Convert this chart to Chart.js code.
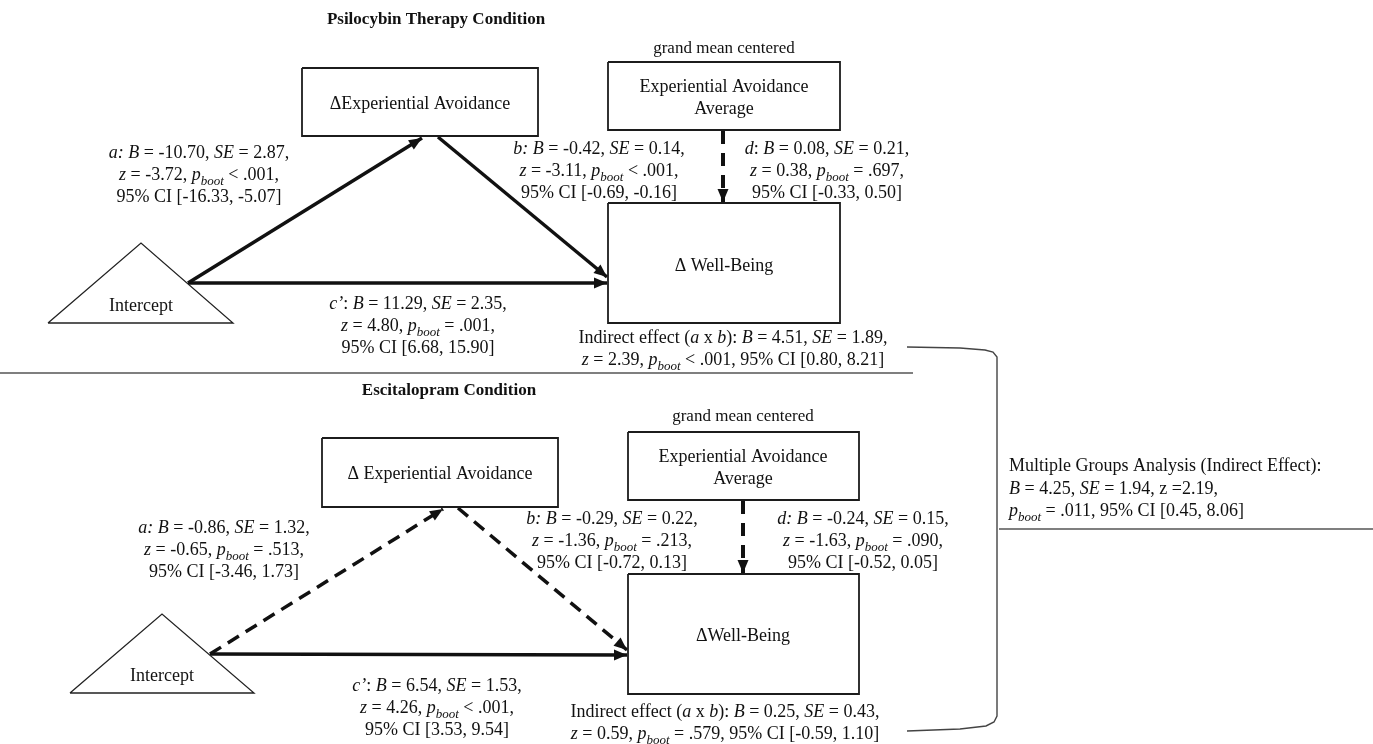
<!DOCTYPE html>
<html>
<head>
<meta charset="utf-8">
<script src="https://cdn.jsdelivr.net/npm/chart.js@4.4.0/dist/chart.umd.min.js"></script>
<style>
html, body { margin: 0; padding: 0; background: #fff; }
#wrap { width: 1373px; height: 744px; position: relative; }
</style>
</head>
<body>
<div id="wrap"><canvas id="mycanvas"></canvas></div>
<script>
// node outlines, picture units (x to the right, y down): [left, top, right, bottom]
var boxEA1  = [302, 68, 538, 136];
var boxAvg1 = [608, 62, 840, 130];
var boxWB1  = [608, 203, 840, 323];
var boxEA2  = [322, 438, 558, 507];
var boxAvg2 = [628, 432, 859, 500];
var boxWB2  = [628, 574, 859, 694];
var tri1 = [[48, 323], [141, 243], [233, 323]];
var tri2 = [[70, 693], [162, 614], [254, 693]];

// paths (from -> to)
var pathA1 = [[188, 283], [422, 138]];
var pathB1 = [[438, 137], [607, 277]];
var pathC1 = [[188, 283], [607, 283]];
var pathD1 = [[723, 131], [723, 202]];
var pathA2 = [[210, 654], [443, 509]];
var pathB2 = [[458, 508], [627, 650]];
var pathC2 = [[210, 654], [627, 655]];
var pathD2 = [[743, 501], [743, 573]];

// rules and bracket
var ruleMid   = [[0, 373], [913, 373]];
var ruleRight = [[999, 529], [1373, 529]];
var bracket   = [[907, 347], [960, 348], [985, 350], [993, 352], [997, 357], [997, 716], [994, 722], [986, 726], [960, 729], [907, 731]];

// texts: *italic*, _italic subscript_
var titles = ["Psilocybin Therapy Condition", "Escitalopram Condition"];
var gmc = "grand mean centered";
var nodeText1 = ["ΔExperiential Avoidance", "Experiential Avoidance", "Average", "Δ Well-Being", "Intercept"];
var nodeText2 = ["Δ Experiential Avoidance", "Experiential Avoidance", "Average", "ΔWell-Being", "Intercept"];
var textA1 = ["*a: B* = -10.70, *SE* = 2.87,", "*z* = -3.72, *p*_boot_ < .001,", "95% CI [-16.33, -5.07]"];
var textB1 = ["*b: B* = -0.42, *SE* = 0.14,", "*z* = -3.11, *p*_boot_ < .001,", "95% CI [-0.69, -0.16]"];
var textD1 = ["*d*: *B* = 0.08, *SE* = 0.21,", "*z* = 0.38, *p*_boot_ = .697,", "95% CI [-0.33, 0.50]"];
var textC1 = ["*c’*: *B* = 11.29, *SE* = 2.35,", "*z* = 4.80, *p*_boot_ = .001,", "95% CI [6.68, 15.90]"];
var textI1 = ["Indirect effect (*a* x *b*): *B* = 4.51, *SE* = 1.89,", "*z* = 2.39, *p*_boot_ < .001, 95% CI [0.80, 8.21]"];
var textA2 = ["*a: B* = -0.86, *SE* = 1.32,", "*z* = -0.65, *p*_boot_ = .513,", "95% CI [-3.46, 1.73]"];
var textB2 = ["*b: B* = -0.29, *SE* = 0.22,", "*z* = -1.36, *p*_boot_ = .213,", "95% CI [-0.72, 0.13]"];
var textD2 = ["*d: B* = -0.24, *SE* = 0.15,", "*z* = -1.63, *p*_boot_ = .090,", "95% CI [-0.52, 0.05]"];
var textC2 = ["*c’*: *B* = 6.54, *SE* = 1.53,", "*z* = 4.26, *p*_boot_ < .001,", "95% CI [3.53, 9.54]"];
var textI2 = ["Indirect effect (*a* x *b*): *B* = 0.25, *SE* = 0.43,", "*z* = 0.59, *p*_boot_ = .579, 95% CI [-0.59, 1.10]"];
var textMG = ["Multiple Groups Analysis (Indirect Effect):", "*B* = 4.25, *SE* = 1.94, z =2.19,", "*p*_boot_ = .011, 95% CI [0.45, 8.06]"];

function pts(arr) { return arr.map(function (p) { return { x: p[0], y: p[1] }; }); }
function rect(r) { return pts([[r[0], r[1]], [r[2], r[1]], [r[2], r[3]], [r[0], r[3]], [r[0], r[1]]]); }
function closed(arr) { return pts(arr.concat([arr[0]])); }

function outline(r) { return { data: rect(r), borderColor: "#1c1c1c", borderWidth: 1.8 }; }
function path(p, dashed, w) {
  return { data: pts(p), borderColor: "#111", borderWidth: w || 3.5, borderDash: dashed ? [13, 8] : [], arrow: true };
}

var datasets = [
  outline(boxEA1), outline(boxAvg1), outline(boxWB1),
  outline(boxEA2), outline(boxAvg2), outline(boxWB2),
  { data: closed(tri1), borderColor: "#222", borderWidth: 1.3 },
  { data: closed(tri2), borderColor: "#222", borderWidth: 1.3 },
  path(pathA1, false), path(pathB1, false), path(pathC1, false),
  { data: pts(pathD1), borderColor: "#111", borderWidth: 4, borderDash: [13, 9], arrow: true },
  path(pathA2, true), path(pathB2, true), path(pathC2, false),
  { data: pts(pathD2), borderColor: "#111", borderWidth: 4, borderDash: [13, 9], arrow: true },
  { data: pts(ruleMid), borderColor: "#555", borderWidth: 1.5 },
  { data: pts(ruleRight), borderColor: "#555", borderWidth: 1.5 },
  { data: pts(bracket), borderColor: "#444", borderWidth: 1.4 }
];
datasets.forEach(function (d) { d.showLine = true; d.pointRadius = 0; d.fill = false; d.tension = 0; });

var FONT = "'Liberation Serif', 'Times New Roman', serif";

function parse(line) {
  return line.split(/(\*[^*]*\*|_[^_]*_)/).filter(function (s) { return s.length; }).map(function (s) {
    if (s[0] === "*") return { t: s.slice(1, -1), it: true };
    if (s[0] === "_") return { t: s.slice(1, -1), it: true, sub: true };
    return { t: s };
  });
}
function fontOf(p, size, bold) {
  var sz = p.sub ? Math.round(size * 0.72) : size;
  return (p.it ? "italic " : "") + (bold ? "bold " : "") + sz + "px " + FONT;
}
function drawLine(ctx, line, x, y, size, bold, left) {
  var parts = parse(line), w = 0;
  parts.forEach(function (p) { ctx.font = fontOf(p, size, bold); p.w = ctx.measureText(p.t).width; w += p.w; });
  var cx = left ? x : x - w / 2;
  parts.forEach(function (p) {
    ctx.font = fontOf(p, size, bold);
    ctx.fillText(p.t, cx, y + size * 0.35 + (p.sub ? size * 0.28 : 0));
    cx += p.w;
  });
}

// label placement: [lines, centre x, first-line y, line step, size, bold, left aligned]
var labels = [
  [[titles[0]], 436, 18, 0, 17, true],
  [[titles[1]], 449, 389, 0, 17, true],
  [[gmc], 724, 47, 0, 17],
  [[gmc], 743, 415, 0, 17],
  [[nodeText1[0]], 420, 103, 0, 18],
  [[nodeText1[1], nodeText1[2]], 724, 86, 22, 18],
  [[nodeText1[3]], 724, 265, 0, 18],
  [[nodeText1[4]], 141, 305, 0, 18],
  [[nodeText2[0]], 440, 473, 0, 18],
  [[nodeText2[1], nodeText2[2]], 743, 456, 22, 18],
  [[nodeText2[3]], 743, 635, 0, 18],
  [[nodeText2[4]], 162, 675, 0, 18],
  [textA1, 199, 152, 22, 18],
  [textB1, 599, 148, 22, 18],
  [textD1, 827, 148, 22, 18],
  [textC1, 418, 303, 22, 18],
  [textI1, 733, 337, 22, 18],
  [textA2, 224, 527, 22, 18],
  [textB2, 612, 518, 22, 18],
  [textD2, 863, 518, 22, 18],
  [textC2, 437, 685, 22, 18],
  [textI2, 725, 711, 21.5, 18],
  [textMG, 1009, 465, 22.5, 18, false, true]
];

var diagramPlugin = {
  id: "diagram",
  afterDatasetsDraw: function (chart) {
    var ctx = chart.ctx, sx = chart.scales.x, sy = chart.scales.y;
    ctx.save();
    // arrowheads at the last point of each path
    chart.data.datasets.forEach(function (ds, i) {
      if (!ds.arrow) return;
      var els = chart.getDatasetMeta(i).data;
      var a = els[els.length - 2], b = els[els.length - 1];
      var ang = Math.atan2(b.y - a.y, b.x - a.x), L = 13, H = 5.5;
      ctx.fillStyle = "#111";
      ctx.beginPath();
      ctx.moveTo(b.x, b.y);
      ctx.lineTo(b.x - L * Math.cos(ang) + H * Math.sin(ang), b.y - L * Math.sin(ang) - H * Math.cos(ang));
      ctx.lineTo(b.x - L * Math.cos(ang) - H * Math.sin(ang), b.y - L * Math.sin(ang) + H * Math.cos(ang));
      ctx.closePath();
      ctx.fill();
    });
    ctx.fillStyle = "#111";
    ctx.textAlign = "left";
    ctx.textBaseline = "alphabetic";
    labels.forEach(function (l) {
      l[0].forEach(function (line, k) {
        drawLine(ctx, line, sx.getPixelForValue(l[1]), sy.getPixelForValue(l[2] + k * l[3]), l[4], l[5], l[6]);
      });
    });
    ctx.restore();
  }
};

new Chart(document.getElementById("mycanvas"), {
  type: "scatter",
  data: { datasets: datasets },
  options: {
    responsive: true,
    maintainAspectRatio: false,
    animation: false,
    layout: { padding: 0 },
    plugins: { legend: { display: false }, tooltip: { enabled: false } },
    scales: {
      x: { type: "linear", min: 0, max: 1373, display: false },
      y: { type: "linear", min: 0, max: 744, reverse: true, display: false }
    }
  },
  plugins: [diagramPlugin]
});
</script>
</body>
</html>
